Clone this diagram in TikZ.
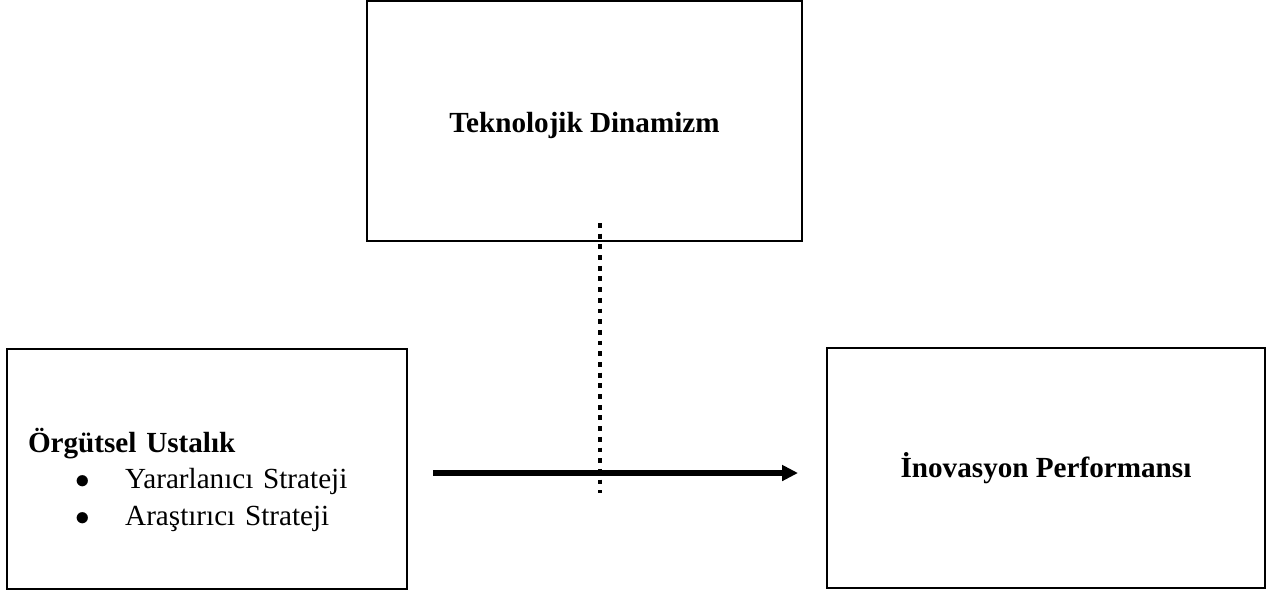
\documentclass[tikz,border=0pt]{standalone}
\usepackage{fontspec}
\setmainfont{Liberation Serif}
\usetikzlibrary{arrows.meta}
\newcommand{\itembullet}{\hspace*{19.6pt}\makebox[20.4pt][l]{$\bullet$}}
\begin{document}
\begin{tikzpicture}[x=0.4115pt,y=-0.4115pt,
  boxnode/.style={draw,line width=1pt,minimum height={240*0.4115pt},inner sep=0pt,
    font=\fontsize{12}{15}\selectfont},
  flow/.style={line width=2.3pt,-{Triangle[length=6.5pt,width=6.2pt]}},
  moderator/.style={line width=2pt,dash pattern=on 2pt off 2.4pt}]
\useasboundingbox (0,0) rectangle (1266,593);
\fill[white] (0,0) rectangle (1266,593);
\node[boxnode,minimum width={435*0.4115pt}] (tek) at (584.5,121)
  {\rule{0pt}{12.4pt}\textbf{Teknolojik Dinamizm}};
\node[boxnode,minimum width={400*0.4115pt},text width={358*0.4115pt},align=left] (org) at (207,469)
  {\rule{0pt}{19pt}\textbf{Örgütsel Ustalık}\\
   \itembullet Yararlanıcı Strateji\\
   \itembullet Araştırıcı Strateji};
\node[boxnode,minimum width={438*0.4115pt}] (ino) at (1046,468) {\textbf{İnovasyon Performansı}};
\coordinate (a1) at (433,473);
\coordinate (a2) at (798,473);
\draw[flow] (a1) -- (a2);
\coordinate (m1) at (600,223);
\coordinate (m2) at (600,493);
\draw[moderator] (m1) -- (m2);
\end{tikzpicture}
\end{document}
